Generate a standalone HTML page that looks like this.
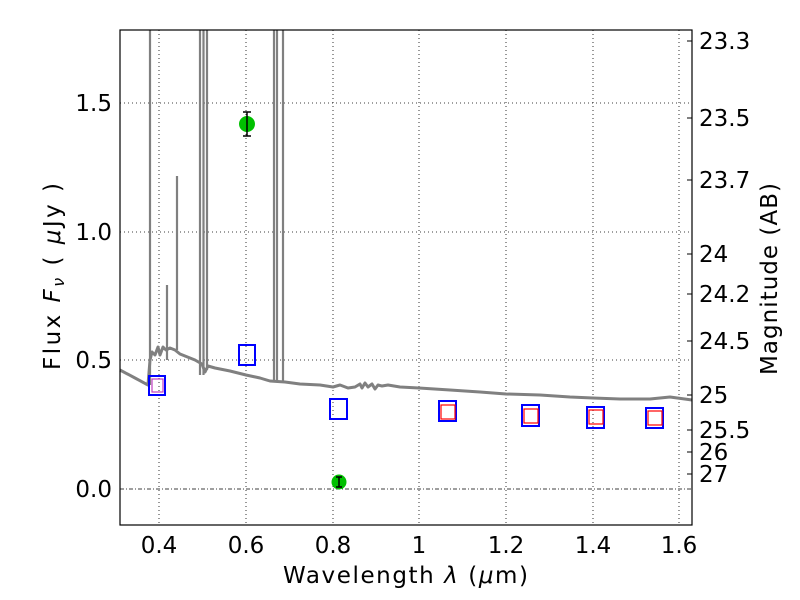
<!DOCTYPE html>
<html><head><meta charset="utf-8"><style>body{margin:0;background:#fff}svg{display:block}text{font-family:"DejaVu Sans","Liberation Sans",sans-serif;fill:#000}</style></head>
<body>
<svg width="800" height="600" viewBox="0 0 800 600" xmlns="http://www.w3.org/2000/svg">
<rect width="800" height="600" fill="#fff"/>
<g stroke="#000" stroke-width="0.8" stroke-dasharray="1,3" fill="none">
<line x1="159" y1="30" x2="159" y2="525"/><line x1="246" y1="30" x2="246" y2="525"/>
<line x1="333" y1="30" x2="333" y2="525"/><line x1="419" y1="30" x2="419" y2="525"/>
<line x1="506" y1="30" x2="506" y2="525"/><line x1="593" y1="30" x2="593" y2="525"/>
<line x1="679" y1="30" x2="679" y2="525"/>
<line x1="120" y1="103" x2="692" y2="103"/><line x1="120" y1="232" x2="692" y2="232"/>
<line x1="120" y1="360" x2="692" y2="360"/>
</g>
<line x1="120" y1="489" x2="692" y2="489" stroke="#000" stroke-width="0.8" stroke-dasharray="4,2,1,2"/>
<g stroke="#808080" stroke-width="3" fill="none" stroke-linejoin="round">
<polyline points="120,370 135,378 148,385 150,360 152,352 155,355 158,347 160,355 163,347 166,350 170,348 175,350 180,354 185,356 195,360 202,364 205,372 208,366 215,368 230,371 246,375 260,378 270,381 285,382 300,384 320,385 333,387 340,385 348,388 355,387 360,384 362,388 365,383 368,387 372,384 375,389 378,385 382,386 388,385 400,387 419,388 450,390 480,392 506,394 540,395 570,397 593,398 620,399 650,399 670,397 692,400"/>
</g>
<g stroke="#808080" stroke-width="2.2" fill="none">
<line x1="150" y1="30" x2="150" y2="385"/>
<line x1="167" y1="360" x2="167" y2="285"/>
<line x1="177" y1="350" x2="177" y2="176"/>
<line x1="200" y1="375" x2="200" y2="30"/>
<line x1="203.5" y1="375" x2="203.5" y2="30"/>
<line x1="207" y1="370" x2="207" y2="30"/>
<line x1="274" y1="382" x2="274" y2="30"/>
<line x1="277" y1="382" x2="277" y2="30"/>
<line x1="283" y1="383" x2="283" y2="30"/>
</g>
<g stroke="#000" stroke-width="1.5">
<circle cx="247" cy="124" r="8" fill="#00c000" stroke="none"/>
<line x1="247" y1="112" x2="247" y2="136"/><line x1="243" y1="112" x2="251" y2="112"/><line x1="243" y1="136" x2="251" y2="136"/>
<circle cx="339" cy="482" r="7.5" fill="#00c000" stroke="none"/>
<line x1="339" y1="477" x2="339" y2="487"/><line x1="336" y1="477" x2="342" y2="477"/><line x1="336" y1="487" x2="342" y2="487"/>
</g>
<g fill="none" stroke="#0000ff" stroke-width="2">
<rect x="149" y="376" width="16" height="19"/>
<rect x="239" y="345" width="16" height="20"/>
<rect x="330" y="399" width="17" height="20"/>
<rect x="439" y="401" width="17" height="20"/>
<rect x="522" y="405" width="17" height="21"/>
<rect x="587" y="407" width="17" height="21"/>
<rect x="646" y="408" width="17" height="20"/>
</g>
<g fill="none" stroke="#ff0000" stroke-width="1.2">
<rect x="152" y="379" width="11" height="13" stroke="#c040c0"/>
<rect x="441" y="405" width="14" height="14"/>
<rect x="524" y="409" width="14" height="14"/>
<rect x="589" y="410" width="14" height="14"/>
<rect x="648" y="411" width="14" height="14"/>
</g>
<rect x="120" y="30" width="572" height="495" fill="none" stroke="#000" stroke-width="1.2"/>
<g stroke="#000" stroke-width="1">
<line x1="692" y1="41" x2="687" y2="41"/><line x1="692" y1="118" x2="687" y2="118"/>
<line x1="692" y1="180" x2="687" y2="180"/><line x1="692" y1="254" x2="687" y2="254"/>
<line x1="692" y1="294" x2="687" y2="294"/><line x1="692" y1="341" x2="687" y2="341"/>
<line x1="692" y1="395" x2="687" y2="395"/><line x1="692" y1="430" x2="687" y2="430"/>
<line x1="692" y1="452" x2="687" y2="452"/><line x1="692" y1="474" x2="687" y2="474"/>
</g>
<g font-size="23" text-anchor="middle">
<text x="159" y="553">0.4</text><text x="246" y="553">0.6</text><text x="333" y="553">0.8</text>
<text x="419" y="553">1</text><text x="506" y="553">1.2</text><text x="593" y="553">1.4</text><text x="679" y="553">1.6</text>
</g>
<g font-size="23" text-anchor="end">
<text x="112" y="111">1.5</text><text x="112" y="240">1.0</text><text x="112" y="368">0.5</text><text x="112" y="497">0.0</text>
</g>
<g font-size="23">
<text x="699" y="49">23.3</text><text x="699" y="126">23.5</text><text x="699" y="188">23.7</text>
<text x="699" y="262">24</text><text x="699" y="302">24.2</text><text x="699" y="349">24.5</text>
<text x="699" y="403">25</text><text x="699" y="438">25.5</text><text x="699" y="460">26</text><text x="699" y="482">27</text>
</g>
<text x="283" y="583" font-size="23" textLength="245" lengthAdjust="spacing">Wavelength  <tspan font-style="italic">λ</tspan> (<tspan font-style="italic">μ</tspan>m)</text>
<text transform="translate(60,370) rotate(-90)" font-size="23" textLength="187" lengthAdjust="spacing">Flux  <tspan font-style="italic">F</tspan><tspan font-style="italic" font-size="16" dy="4">ν</tspan><tspan dy="-4">  ( </tspan><tspan font-style="italic">μ</tspan>Jy )</text>
<text transform="translate(777,375) rotate(-90)" font-size="23" textLength="192" lengthAdjust="spacing">Magnitude (AB)</text>
</svg>
</body></html>
